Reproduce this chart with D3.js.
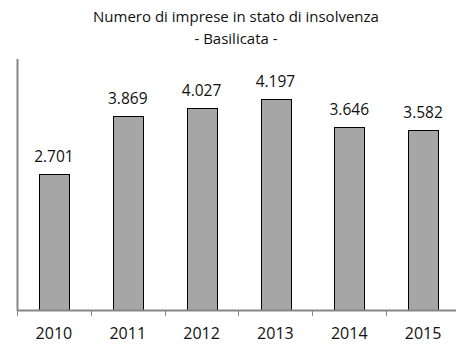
<!DOCTYPE html>
<html>
<head>
<meta charset="utf-8">
<script src="https://cdn.jsdelivr.net/npm/d3@7"></script>
<style>
  html, body { margin: 0; padding: 0; background: #fff; }
  svg { display: block; }
  text { font-family: "Open Sans", "Liberation Sans", sans-serif; fill: #111; }
</style>
</head>
<body>
<div id="chart"></div>
<script>
// Numero di imprese in stato di insolvenza, Basilicata 2010-2015
const years = ["2010", "2011", "2012", "2013", "2014", "2015"];
const imprese = [2701, 3869, 4027, 4197, 3646, 3582];
const titleLines = ["Numero di imprese in stato di insolvenza", "- Basilicata -"];

const width = 456, height = 349;
const margin = { top: 59, right: -4, bottom: 39, left: 17 };

const svg = d3.select("#chart").append("svg")
  .attr("width", width)
  .attr("height", height);

const x = d3.scaleBand()
  .domain(years)
  .range([margin.left, width - margin.right])
  .paddingInner(0.6)
  .paddingOuter(0.3);

const y = d3.scaleLinear()
  .domain([0, 5000])
  .range([height - margin.bottom, margin.top]);

const fmt = v => d3.format(",")(v).replace(/,/g, ".");

// title
svg.append("g").selectAll("text")
  .data(titleLines)
  .join("text")
  .attr("x", 236)
  .attr("y", (d, i) => 22 + i * 22)
  .attr("text-anchor", "middle")
  .style("font-size", "15px")
  .text(d => d);

// bars
svg.append("g").selectAll("rect")
  .data(years)
  .join("rect")
  .attr("x", (d) => Math.round(x(d)) + 0.5)
  .attr("y", (d, i) => Math.round(y(imprese[i])) + 0.5)
  .attr("width", Math.round(x.bandwidth()))
  .attr("height", (d, i) => Math.round(y(0)) - Math.round(y(imprese[i])))
  .attr("fill", "#a6a6a6")
  .attr("stroke", "#000")
  .attr("stroke-width", 1);

// value labels
svg.append("g").selectAll("text")
  .data(years)
  .join("text")
  .attr("x", d => x(d) + x.bandwidth() / 2)
  .attr("y", (d, i) => y(imprese[i]) - 12)
  .attr("text-anchor", "middle")
  .style("font-size", "15.5px")
  .text((d, i) => fmt(imprese[i]));

// x axis: ticks at category boundaries
const xAxisG = svg.append("g")
  .attr("transform", `translate(0,${y(0)})`);
xAxisG.append("line")
  .attr("x1", margin.left).attr("x2", width)
  .attr("y1", 0.5).attr("y2", 0.5)
  .attr("stroke", "#868686").attr("stroke-width", 2);
const step = x.step();
const bounds = years.map((d, i) => x(d) - x.paddingInner() * step / 2);
xAxisG.selectAll("line.tick")
  .data(bounds)
  .join("line")
  .attr("class", "tick")
  .attr("x1", d => Math.round(d) + 0.5).attr("x2", d => Math.round(d) + 0.5)
  .attr("y1", 0).attr("y2", 6)
  .attr("stroke", "#868686").attr("stroke-width", 1);
xAxisG.selectAll("text")
  .data(years)
  .join("text")
  .attr("x", d => x(d) + x.bandwidth() / 2)
  .attr("y", 28.5)
  .attr("text-anchor", "middle")
  .style("font-size", "16px")
  .text(d => d);

// y axis line (no ticks)
svg.append("line")
  .attr("x1", margin.left + 0.5).attr("x2", margin.left + 0.5)
  .attr("y1", margin.top).attr("y2", y(0) + 1)
  .attr("stroke", "#868686").attr("stroke-width", 2);
</script>
</body>
</html>
